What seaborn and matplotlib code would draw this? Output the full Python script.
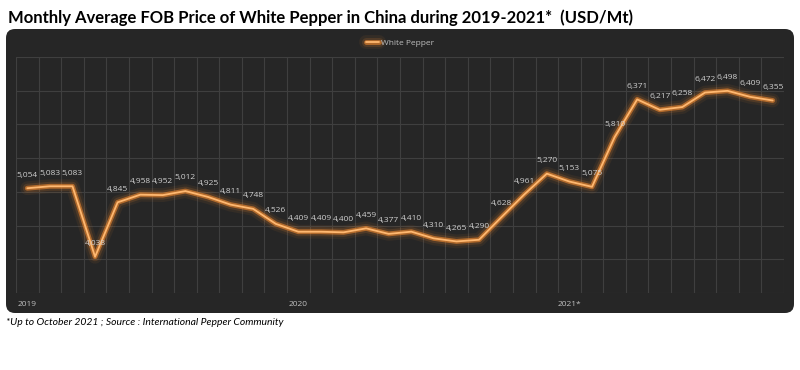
import pandas as pd
import matplotlib
matplotlib.use("Agg")
import matplotlib.pyplot as plt
import matplotlib.patheffects as pe
from matplotlib.patches import FancyBboxPatch
import seaborn as sns

# monthly FOB price, Jan 2019 .. Oct 2021 (USD/Mt)
prices_2019 = [5054, 5083, 5083, 4038, 4845, 4958, 4952, 5012, 4925, 4811, 4748, 4526]
prices_2020 = [4409, 4409, 4400, 4459, 4377, 4410, 4310, 4265, 4290, 4628, 4961, 5270]
prices_2021 = [5153, 5075, 5810, 6371, 6217, 6258, 6472, 6498, 6409, 6355]
year_labels = ["2019", "2020", "2021*"]

prices = prices_2019 + prices_2020 + prices_2021
df = pd.DataFrame({"month": range(len(prices)), "price": prices})

orange = "#f28a2e"
panel = "#262626"
grid = "#3f3f3f"
label_col = "#d0d0d0"

sns.set_style("dark")
plt.rcParams["font.family"] = ["Open Sans", "DejaVu Sans"]

fig = plt.figure(figsize=(8, 3.7), dpi=100)

# rounded dark panel behind the chart
bg = fig.add_axes([0, 0, 1, 1], zorder=0)
bg.set_xlim(0, 800)
bg.set_ylim(370, 0)
bg.axis("off")
bg.add_patch(FancyBboxPatch((6, 29), 788, 284, boxstyle="round,pad=0,rounding_size=9",
                            facecolor=panel, edgecolor="none"))

ax = fig.add_axes([0.02, 0.208, 0.96, 0.638], zorder=1)
ax.set_facecolor("none")

glow = [pe.Stroke(linewidth=10, foreground=orange, alpha=0.07),
        pe.Stroke(linewidth=6.5, foreground=orange, alpha=0.15),
        pe.Stroke(linewidth=3.5, foreground=orange, alpha=0.6),
        pe.Normal()]
sns.lineplot(data=df, x="month", y="price", ax=ax, color="#ffb870", linewidth=1.3,
             label="White Pepper", path_effects=glow)

for m, p in zip(df["month"], df["price"]):
    ax.annotate(f"{p:,}", (m, p), xytext=(0, 7), textcoords="offset points",
                ha="center", va="bottom", fontsize=6, color=label_col)

n = len(prices)
ax.set_xlim(-0.5, n - 0.5)
ax.set_ylim(3500, 7000)
ax.set_xticks([i - 0.5 for i in range(n + 1)], minor=True)
ax.set_yticks(range(3500, 7001, 500))
ax.set_xticks([0, 12, 24])
ax.set_xticklabels(year_labels, fontsize=6, color="#bfbfbf")
ax.set_yticklabels([])
ax.tick_params(axis="both", which="both", length=0, pad=6)
ax.grid(False)
ax.grid(True, which="minor", axis="x", color=grid, linewidth=0.8)
ax.grid(True, which="major", axis="y", color=grid, linewidth=0.8)
ax.set_xlabel("")
ax.set_ylabel("")
for s in ax.spines.values():
    s.set_visible(False)

leg = ax.legend(loc="lower center", bbox_to_anchor=(0.5, 1.01), frameon=False,
                fontsize=6, handlelength=1.6, handletextpad=0.3)
for t in leg.get_texts():
    t.set_color("#bfbfbf")

fig.text(0.01, 0.953, "Monthly Average FOB Price of White Pepper in China during 2019-2021*  (USD/Mt)",
         fontsize=12, fontweight="bold", color="black", va="center",
         family=["Lato", "DejaVu Sans"])
fig.text(0.008, 0.128, "*Up to October 2021 ; Source : International Pepper Community",
         fontsize=7.5, style="italic", color="black", va="center", family=["Lato", "DejaVu Sans"])

fig.savefig("out.png", dpi=100, facecolor="white")
